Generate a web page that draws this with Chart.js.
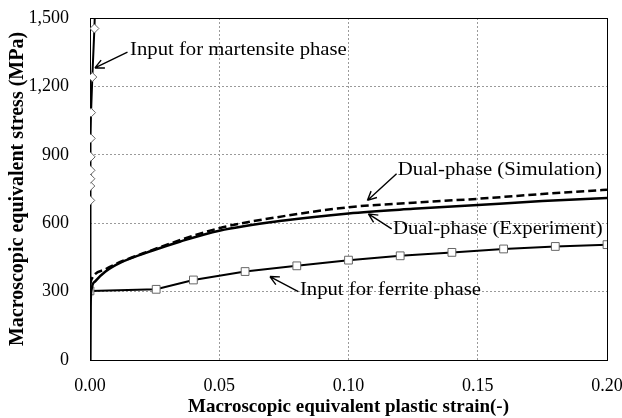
<!DOCTYPE html>
<html>
<head>
<meta charset="utf-8">
<script src="https://cdn.jsdelivr.net/npm/chart.js@4"></script>
<style>
  html, body { margin: 0; padding: 0; background: #fff; }
  #wrap { width: 622px; height: 418px; }
</style>
</head>
<body>
<div id="wrap"><canvas id="chart" width="622" height="418"></canvas></div>
<script>
// ──────────────────────────────────────────────
// Данные
// ──────────────────────────────────────────────
const yTicks = [0, 300, 600, 900, 1200, 1500];
const xTicks = [0, 0.05, 0.10, 0.15, 0.20];

// мартенсит: ромбы (первая и последняя точки — только линия)
const martStrain = [0, 0.0001, 0.00012, 0.00015, 0.0002, 0.00025, 0.0003, 0.0004, 0.0009, 0.0017, 0.0021];
const martStress = [0, 700, 763, 795, 832, 891, 972, 1085, 1241, 1454, 1600];

// феррит: квадраты
const ferStrain = [0, 0.0256, 0.04, 0.06, 0.08, 0.10, 0.12, 0.14, 0.16, 0.18, 0.20];
const ferStress = [303, 310, 351, 388, 413, 438, 457, 472, 487, 498, 506];

// двухфазная сталь, эксперимент
const expStrain = [0, 0.0002, 0.0006, 0.002, 0.006, 0.012, 0.024, 0.035, 0.05, 0.075, 0.10, 0.125, 0.15, 0.175, 0.20];
const expStress = [0, 230, 310, 345, 388, 428, 479, 520, 567, 612, 643, 663, 680, 697, 711];

// двухфазная сталь, расчёт
const simStrain = [0, 0.0006, 0.006, 0.024, 0.05, 0.075, 0.10, 0.125, 0.15, 0.175, 0.20];
const simStress = [330, 354, 398, 482, 578, 631, 670, 690, 707, 728, 747];

// подписи со стрелками: [текст, x текста, y текста, x начала стрелки, y начала, x острия, y острия]
const notes = [
    ['Input for martensite phase', 0.0155, 1360, 0.0145, 1350, 0.0019, 1281],
    ['Dual-phase (Simulation)',    0.1191,  830, 0.1186,  817, 0.1073,  700],
    ['Dual-phase (Experiment)',    0.1172,  575, 0.1167,  575, 0.1077,  641],
    ['Input for ferrite phase',    0.0812,  305, 0.0806,  300, 0.0696,  366]
];

const toXY = (xs, ys) => xs.map((x, i) => ({ x, y: ys[i] }));

// ──────────────────────────────────────────────
// Рамка и подписи
// ──────────────────────────────────────────────
const frame = {
    id: 'frame',
    beforeDatasetsDraw(chart) {
        const { ctx, chartArea: a } = chart;
        ctx.save();
        ctx.strokeStyle = '#000';
        ctx.lineWidth = 1;
        ctx.strokeRect(Math.round(a.left) + 0.5, Math.round(a.top) + 0.5,
                       Math.round(a.right - a.left), Math.round(a.bottom - a.top));
        ctx.restore();
    },
    afterDatasetsDraw(chart) {
        const { ctx, scales: { x, y } } = chart;
        ctx.save();
        ctx.font = '18px "Liberation Serif"';
        ctx.fillStyle = '#000';
        ctx.strokeStyle = '#000';
        ctx.lineWidth = 1.4;
        ctx.textBaseline = 'middle';
        notes.forEach(([text, tx, ty, sx, sy, ax, ay]) => {
            // шрифт оригинала шире — растягиваем по горизонтали
            const px = x.getPixelForValue(tx), py = y.getPixelForValue(ty);
            ctx.save();
            ctx.translate(px, py);
            ctx.scale(1.15, 1);
            ctx.fillText(text, 0, 0);
            ctx.restore();

            const x1 = x.getPixelForValue(sx), y1 = y.getPixelForValue(sy);
            const x2 = x.getPixelForValue(ax), y2 = y.getPixelForValue(ay);
            const ang = Math.atan2(y2 - y1, x2 - x1);
            ctx.beginPath();
            ctx.moveTo(x1, y1);
            ctx.lineTo(x2, y2);
            [-0.45, 0.45].forEach(d => {
                ctx.moveTo(x2, y2);
                ctx.lineTo(x2 - 10 * Math.cos(ang + d), y2 - 10 * Math.sin(ang + d));
            });
            ctx.stroke();
        });
        ctx.restore();
    }
};

const serif = '"Liberation Serif", "Times New Roman", serif';
const edgeless = (max) => ctx => (ctx.tick && (ctx.tick.value === 0 || ctx.tick.value === max)) ? 'rgba(0,0,0,0)' : '#9a9a9a';
// фиксированные размеры осей, без автоматических отступов под подписи
const fixAxis = (w, h) => s => {
    if (w) s.width = w;
    if (h) s.height = h;
    s.paddingTop = s.paddingBottom = s.paddingLeft = s.paddingRight = 0;
};

new Chart(document.getElementById('chart'), {
    type: 'scatter',
    data: {
        datasets: [
            {
                label: 'Martensite',
                data: toXY(martStrain, martStress),
                showLine: true,
                borderColor: '#000', borderWidth: 2,
                pointStyle: 'rectRot',
                pointRadius: martStress.map((_, i) => (i === 0 || i === martStress.length - 1) ? 0 : 4.5),
                pointBackgroundColor: '#fff', pointBorderColor: '#666', pointBorderWidth: 1
            },
            {
                label: 'Simulation',
                data: toXY(simStrain, simStress),
                showLine: true,
                borderColor: '#000', borderWidth: 2.5, borderDash: [8, 4],
                cubicInterpolationMode: 'monotone',
                pointRadius: 0
            },
            {
                label: 'Experiment',
                data: toXY(expStrain, expStress),
                showLine: true,
                borderColor: '#000', borderWidth: 2.5,
                cubicInterpolationMode: 'monotone',
                pointRadius: 0
            },
            {
                label: 'Ferrite',
                data: toXY(ferStrain, ferStress),
                showLine: true,
                borderColor: '#000', borderWidth: 2,
                pointStyle: 'rect', pointRadius: 5.5,
                pointBackgroundColor: '#fff', pointBorderColor: '#666', pointBorderWidth: 1
            }
        ]
    },
    options: {
        responsive: false,
        animation: false,
        layout: { padding: { left: 0, right: 15, top: 18, bottom: 0 } },
        plugins: { legend: { display: false }, tooltip: { enabled: false } },
        scales: {
            x: {
                type: 'linear', min: 0, max: 0.2,
                afterBuildTicks: s => { s.ticks = xTicks.map(v => ({ value: v })); },
                afterFit: fixAxis(0, 58),
                ticks: {
                    padding: 15, color: '#000',
                    font: { family: serif, size: 18 },
                    callback: v => v.toFixed(2)
                },
                grid: { color: edgeless(0.2), drawTicks: false, lineWidth: 1 },
                border: { display: false, dash: [2, 2] },
                title: {
                    display: true, text: 'Macroscopic equivalent plastic strain(-)',
                    color: '#000', padding: { top: 0, bottom: 0 },
                    font: { family: serif, size: 19, weight: 'bold' }
                }
            },
            y: {
                type: 'linear', min: 0, max: 1500,
                afterBuildTicks: s => { s.ticks = yTicks.map(v => ({ value: v })); },
                afterFit: fixAxis(90, 0),
                ticks: {
                    padding: 21, color: '#000',
                    font: { family: serif, size: 18 },
                    callback: v => v.toLocaleString('en-US')
                },
                grid: { color: edgeless(1500), drawTicks: false, lineWidth: 1 },
                border: { display: false, dash: [2, 2] },
                title: {
                    display: true, text: 'Macroscopic equivalent stress (MPa)',
                    color: '#000', padding: { top: 6, bottom: 0 },
                    font: { family: serif, size: 20, weight: 'bold' }
                }
            }
        }
    },
    plugins: [frame]
});
</script>
</body>
</html>
